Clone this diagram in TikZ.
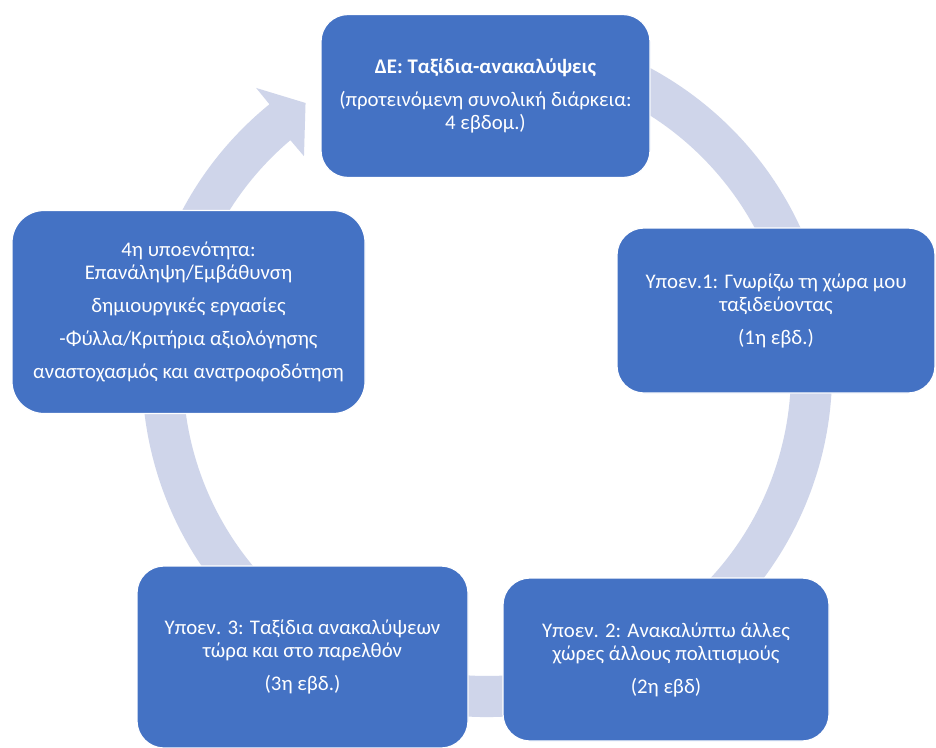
\documentclass[tikz,border=0pt]{standalone}
\usepackage{fontspec}
\setmainfont{Carlito}
\definecolor{boxblue}{HTML}{4472C4}
\definecolor{ringcol}{HTML}{CFD5EA}
\tikzset{
  cyclebox/.style={fill=boxblue, draw=white, line width=1.2pt, rounded corners=27pt,
    text=white, align=center, inner sep=0pt, font=\fontsize{20.8}{23}\selectfont},
  ringshape/.style={fill=ringcol, draw=none}
}
\begin{document}
\begin{tikzpicture}[x=1pt,y=-1pt]
\fill[white] (0,0) rectangle (936,747);
\useasboundingbox (0,0) rectangle (936,747);
% circular arrow ring
\begin{scope}[shift={(487,372)}, yscale=-1]
  \fill[ringshape] (129.1:345) -- (129.1:366) -- (124:324.5) -- (130.3:283) -- (130.3:304)
    arc[start angle=130.3, end angle=460, radius=304] -- (460:345)
    arc[start angle=460, end angle=129.1, radius=345] -- cycle;
\end{scope}
% boxes
\node[cyclebox, minimum width=329pt, minimum height=163pt] (top) at (485.5,96)
  {\textbf{ΔΕ: Ταξίδια-ανακαλύψεις}\\[10pt](προτεινόμενη συνολική διάρκεια:\\4 εβδομ.)};
\node[cyclebox, minimum width=318pt, minimum height=165pt] (u1) at (776,310.5)
  {Υποεν.1: Γνωρίζω τη χώρα μου\\ταξιδεύοντας\\[10pt](1η εβδ.)};
\node[cyclebox, minimum width=326pt, minimum height=163pt] (u2) at (666,659.5)
  {Υποεν. 2: Ανακαλύπτω άλλες\\χώρες άλλους πολιτισμούς\\[10pt](2η εβδ)};
\node[cyclebox, minimum width=331pt, minimum height=182pt] (u3) at (302.5,657)
  {Υποεν. 3: Ταξίδια ανακαλύψεων\\τώρα και στο παρελθόν\\[10pt](3η εβδ.)};
\node[cyclebox, rounded corners=32pt, minimum width=353pt, minimum height=203pt] (u4) at (188.5,312)
  {4η υποενότητα:\\Επανάληψη/Εμβάθυνση\\[10pt]δημιουργικές εργασίες\\[10pt]-Φύλλα/Κριτήρια αξιολόγησης\\[10pt]αναστοχασμός και ανατροφοδότηση};
\end{tikzpicture}
\end{document}
